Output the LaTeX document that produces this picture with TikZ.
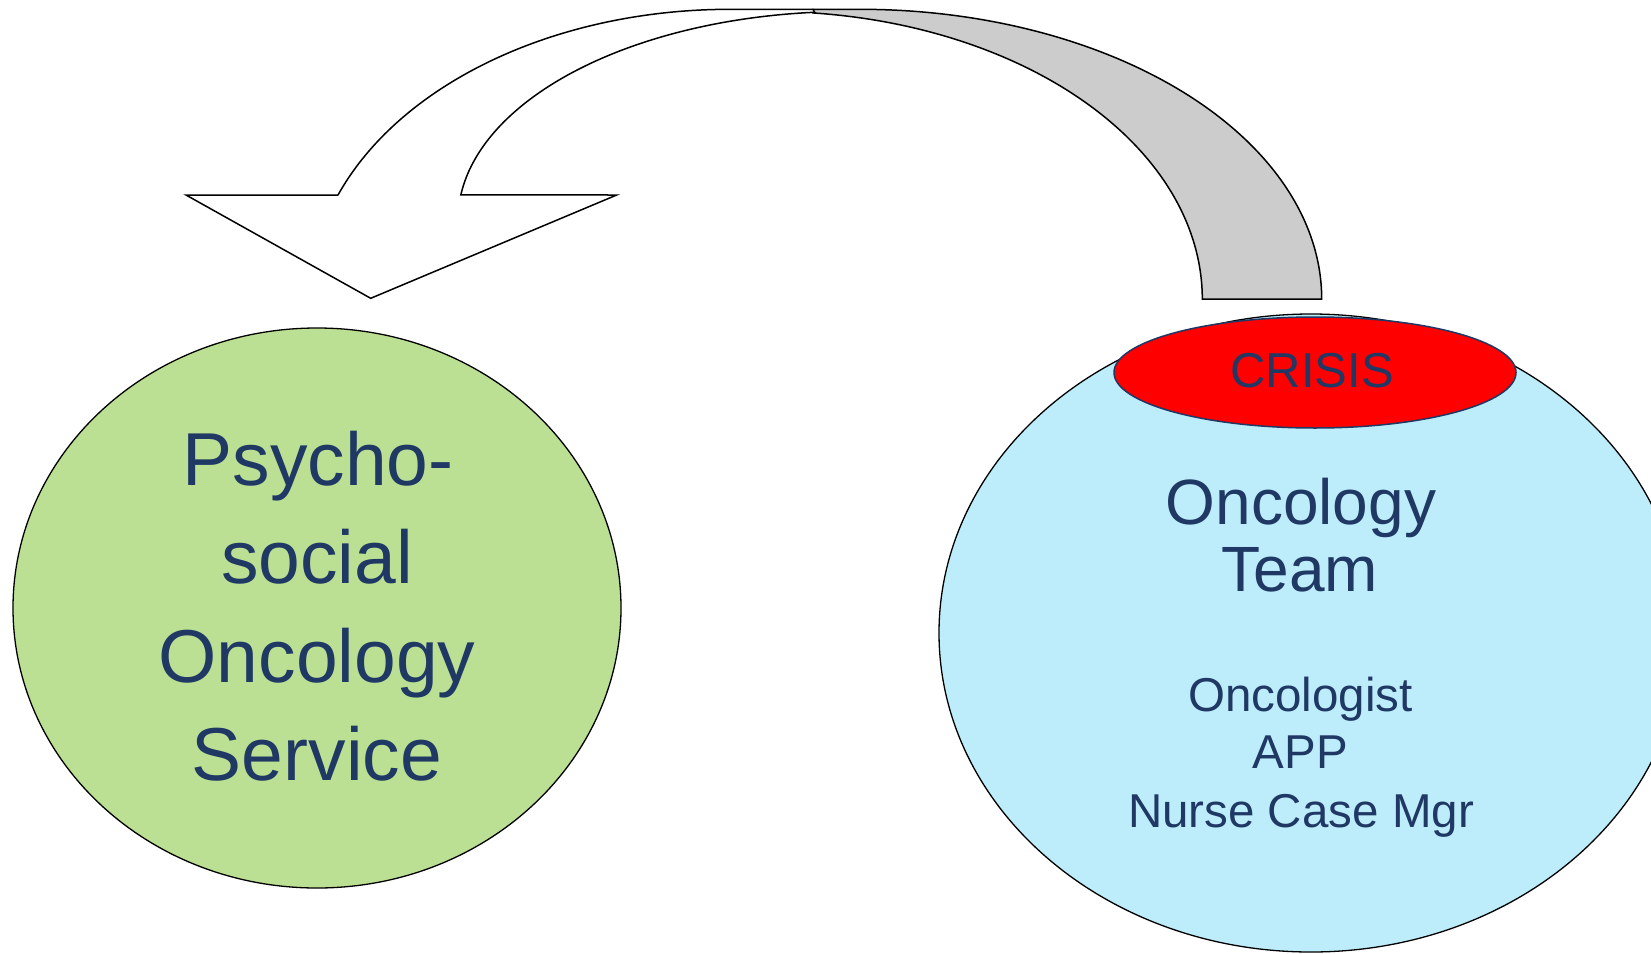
\documentclass[tikz,border=0pt]{standalone}
\usepackage{fontspec}
\setmainfont{Liberation Sans}
\usetikzlibrary{shapes.geometric}

\definecolor{inknavy}{RGB}{31,56,100}
\definecolor{psyfill}{RGB}{187,224,147}
\definecolor{teamfill}{RGB}{189,237,251}
\definecolor{backgray}{RGB}{204,204,204}

\begin{document}
\begin{tikzpicture}[x=1pt, y=-1pt,
  bubble/.style={ellipse, draw=black, line width=1.3pt, inner sep=0pt},
  lbl/.style={text=inknavy, inner sep=0pt, anchor=base},
  bigtxt/.style={font=\fontsize{75}{90}\selectfont},
  midtxt/.style={font=\fontsize{64}{76}\selectfont},
  smalltxt/.style={font=\fontsize{47.5}{57}\selectfont},
  crisistxt/.style={font=\fontsize{49}{58}\selectfont},
  arrowface/.style={draw=black, line width=1.5pt, line join=miter},
  arcpts/.style={samples=90, smooth}]

\useasboundingbox (0,0) rectangle (1651,953);
\clip (0,0) rectangle (1651,953);

% curved arrow: shaded back part (tail on the right), two elliptical edges
\coordinate (peak) at (813,9.3);
\coordinate (backtop) at (860,9.3);
\coordinate (tailin) at (1202.3,299);
\filldraw[arrowface, fill=backgray]
  (peak) -- (backtop)
  -- plot[arcpts, domain=-90:0] ({860+461.7*cos(\x)}, {299+289.7*sin(\x)})
  -- (tailin)
  -- plot[arcpts, domain=0:-84.3] ({770+432.3*cos(\x)}, {299+287.5*sin(\x)})
  -- cycle;

% curved arrow: front face with the head pointing down-left
\coordinate (shout) at (338.1,195);
\coordinate (fronttop) at (730,9.3);
\coordinate (barbR) at (616.7,195);
\coordinate (tip) at (370.7,298.3);
\coordinate (barbL) at (186,195);
\filldraw[arrowface, fill=white]
  (shout)
  -- plot[arcpts, domain=201.04:270] ({730+420*cos(\x)}, {299+289.7*sin(\x)})
  -- (peak)
  -- plot[arcpts, domain=265.1:186.9] ({848+390*cos(\x)}, {220+208.5*sin(\x)})
  -- (barbR) -- (tip) -- (barbL) -- cycle;

% psycho-social oncology service
\node[bubble, fill=psyfill, minimum width=608pt, minimum height=560pt] (psy) at (317,608) {};
\node[lbl, bigtxt] (psyA) at (318,485) {Psycho-};
\node[lbl, bigtxt] (psyB) at (317,583.3) {social};
\node[lbl, bigtxt] (psyC) at (317,682.7) {Oncology};
\node[lbl, bigtxt] (psyD) at (317,780) {Service};

% oncology team with the crisis cap
\node[bubble, fill=teamfill, minimum width=744pt, minimum height=638pt] (team) at (1311,633) {};
\node[ellipse, draw=inknavy, line width=1.5pt, fill=red, inner sep=0pt,
      minimum width=402pt, minimum height=111pt] (crisis) at (1315,372.5) {};
\node[lbl, crisistxt] (crisisT) at (1312,387.7) {CRISIS};
\node[lbl, midtxt] (teamA) at (1301,524) {Oncology};
\node[lbl, midtxt] (teamB) at (1300,591.7) {Team};
\node[lbl, smalltxt] (roleA) at (1300.5,711) {Oncologist};
\node[lbl, smalltxt] (roleB) at (1300.5,768.3) {APP};
\node[lbl, smalltxt] (roleC) at (1301,827.7) {Nurse Case Mgr};

\end{tikzpicture}
\end{document}
